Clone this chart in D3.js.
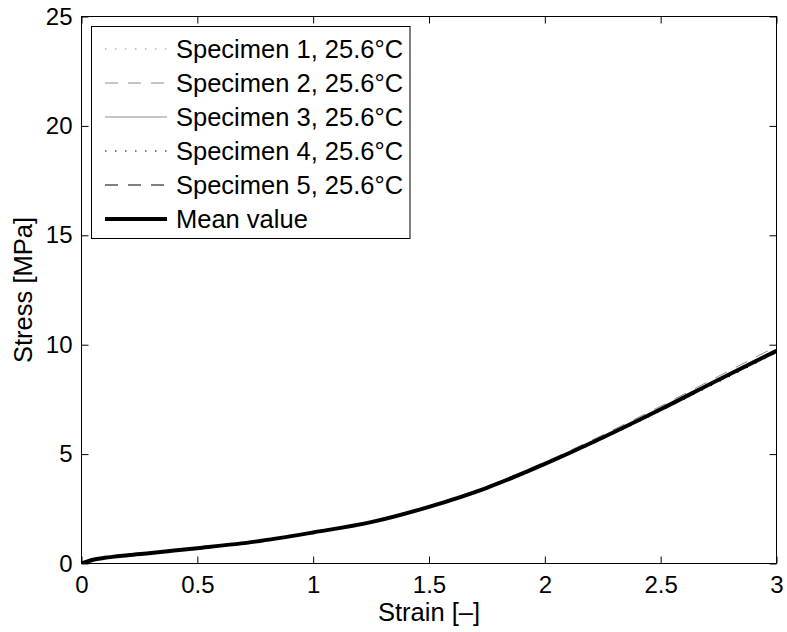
<!DOCTYPE html>
<html>
<head>
<meta charset="utf-8">
<script src="https://cdn.jsdelivr.net/npm/d3@7"></script>
<style>
  body { margin: 0; background: #fff; }
  text { font-family: "Liberation Sans", Arial, Helvetica, sans-serif; fill: #000; }
</style>
</head>
<body>
<div id="chart"></div>
<script>
// Data
const strain = [0, 0.05, 0.1, 0.2, 0.3, 0.4, 0.5, 0.75, 1.0, 1.25, 1.5, 1.75, 2.0, 2.25, 2.5, 2.75, 3.0];
const spec1 = [0, 0.17, 0.26, 0.38, 0.48, 0.59, 0.70, 1.00, 1.42, 1.89, 2.58, 3.44, 4.52, 5.72, 7.00, 8.33, 9.66];
const spec2 = [0, 0.17, 0.26, 0.38, 0.49, 0.60, 0.71, 1.02, 1.45, 1.93, 2.64, 3.53, 4.64, 5.88, 7.19, 8.56, 9.92];
const spec3 = [0, 0.17, 0.26, 0.38, 0.48, 0.59, 0.70, 1.00, 1.42, 1.90, 2.60, 3.47, 4.57, 5.78, 7.08, 8.43, 9.75];
const spec4 = [0, 0.16, 0.25, 0.37, 0.47, 0.58, 0.69, 0.99, 1.40, 1.87, 2.56, 3.42, 4.50, 5.69, 6.97, 8.30, 9.63];
const spec5 = [0, 0.16, 0.25, 0.37, 0.48, 0.58, 0.69, 0.99, 1.41, 1.88, 2.57, 3.44, 4.53, 5.73, 7.02, 8.36, 9.68];
const meanVal = [0, 0.17, 0.26, 0.38, 0.48, 0.59, 0.70, 1.00, 1.42, 1.89, 2.59, 3.46, 4.55, 5.76, 7.05, 8.40, 9.72];

const xTicks = [0, 0.5, 1, 1.5, 2, 2.5, 3];
const yTicks = [0, 5, 10, 15, 20, 25];
const labels = ["Specimen 1, 25.6°C", "Specimen 2, 25.6°C", "Specimen 3, 25.6°C",
                "Specimen 4, 25.6°C", "Specimen 5, 25.6°C", "Mean value"];

const series = [
  { name: labels[0], values: spec1, color: "#8c8c8c", width: 1, dash: "1.5,8.5" },
  { name: labels[1], values: spec2, color: "#8c8c8c", width: 1, dash: "13,10" },
  { name: labels[2], values: spec3, color: "#8c8c8c", width: 1, dash: null },
  { name: labels[3], values: spec4, color: "#000", width: 1, dash: "1.5,8.5" },
  { name: labels[4], values: spec5, color: "#000", width: 1, dash: "13,10" },
  { name: labels[5], values: meanVal, color: "#000", width: 4, dash: null }
];

const W = 787, H = 632;
const pl = 81.5, pr = 776.5, pt = 16.5, pb = 563.5;
const tickFs = 24, labFs = 25.5;

const svg = d3.select("#chart").append("svg")
  .attr("width", W).attr("height", H);

const x = d3.scaleLinear().domain([0, 3]).range([pl, pr]);
const y = d3.scaleLinear().domain([0, 25]).range([pb, pt]);

// curves
const line = d3.line()
  .x((d, i) => x(strain[i]))
  .y(d => y(d))
  .curve(d3.curveMonotoneX);

svg.append("clipPath").attr("id", "clip")
  .append("rect").attr("x", pl).attr("y", pt)
  .attr("width", pr - pl).attr("height", pb - pt);

svg.append("g").attr("clip-path", "url(#clip)")
  .selectAll("path")
  .data(series)
  .enter().append("path")
  .attr("d", d => line(d.values))
  .attr("fill", "none")
  .attr("stroke", d => d.color)
  .attr("stroke-width", d => d.width)
  .attr("stroke-dasharray", d => d.dash)
  .attr("stroke-linejoin", "round");

// axes (ticks inward, mirrored on top and right)
const tl = 7;
svg.append("g").attr("transform", `translate(0,${pb})`)
  .call(d3.axisBottom(x).tickValues(xTicks).tickSizeInner(-tl).tickSizeOuter(0).tickPadding(12)
    .tickFormat(d3.format("")))
  .call(g => g.select(".domain").remove());
svg.append("g").attr("transform", `translate(0,${pt})`)
  .call(d3.axisTop(x).tickValues(xTicks).tickSizeInner(-tl).tickSizeOuter(0).tickFormat(""))
  .call(g => g.select(".domain").remove());
svg.append("g").attr("transform", `translate(${pl},0)`)
  .call(d3.axisLeft(y).tickValues(yTicks).tickSizeInner(-tl).tickSizeOuter(0).tickPadding(9))
  .call(g => g.select(".domain").remove());
svg.append("g").attr("transform", `translate(${pr},0)`)
  .call(d3.axisRight(y).tickValues(yTicks).tickSizeInner(-tl).tickSizeOuter(0).tickFormat(""))
  .call(g => g.select(".domain").remove());

svg.selectAll(".tick line").attr("stroke", "#000");
svg.selectAll(".tick text").style("font-size", tickFs + "px").attr("fill", "#000");

// frame
svg.append("rect")
  .attr("x", pl).attr("y", pt)
  .attr("width", pr - pl).attr("height", pb - pt)
  .attr("fill", "none").attr("stroke", "#000").attr("stroke-width", 1);

// axis labels
svg.append("text")
  .attr("x", (pl + pr) / 2).attr("y", 621)
  .attr("text-anchor", "middle")
  .style("font-size", labFs + "px")
  .text("Strain [\u2013]");

svg.append("text")
  .attr("transform", `translate(32,${(pt + pb) / 2}) rotate(-90)`)
  .attr("text-anchor", "middle")
  .style("font-size", labFs + "px")
  .text("Stress [MPa]");

// legend
const lg = svg.append("g");
lg.append("rect")
  .attr("x", 91.5).attr("y", 26.5)
  .attr("width", 318.5).attr("height", 212)
  .attr("fill", "#fff").attr("stroke", "#000").attr("stroke-width", 1);

const rows = lg.selectAll(".row")
  .data(series)
  .enter().append("g")
  .attr("class", "row")
  .attr("transform", (d, i) => `translate(0,${49 + i * 34})`);

rows.append("line")
  .attr("x1", 105).attr("x2", 167)
  .attr("y1", 0).attr("y2", 0)
  .attr("stroke", d => d.color)
  .attr("stroke-width", d => d.width)
  .attr("stroke-dasharray", d => d.dash);

rows.append("text")
  .attr("x", 176).attr("y", 0)
  .attr("dy", "0.35em")
  .style("font-size", labFs + "px")
  .text(d => d.name);
</script>
</body>
</html>
